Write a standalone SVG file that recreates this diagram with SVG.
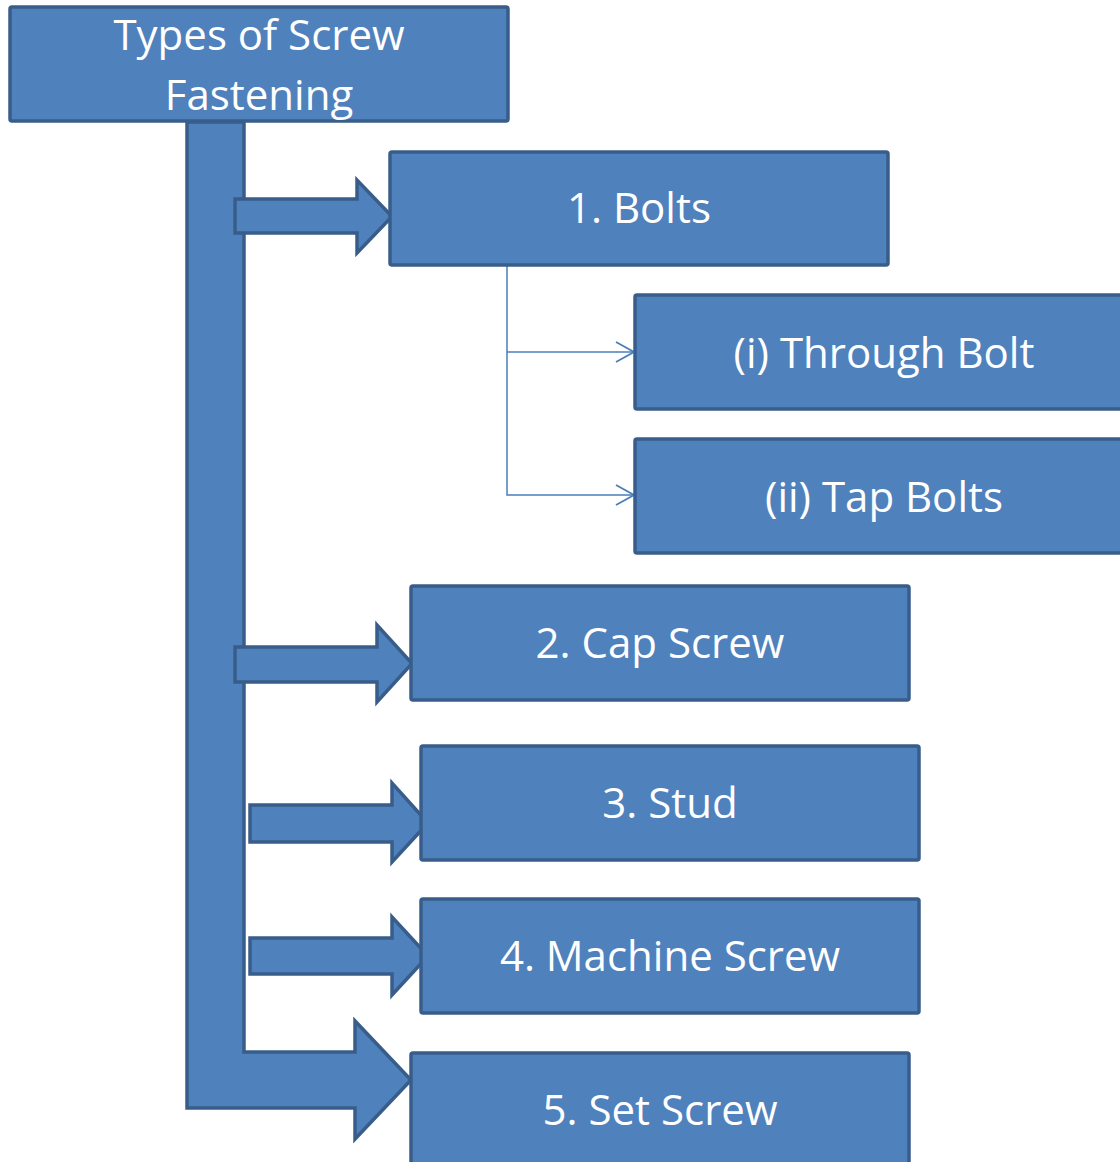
<svg xmlns="http://www.w3.org/2000/svg" width="1120" height="1162" viewBox="0 0 1120 1162">
  <defs>
    <style>
      .box { fill: #4f81bd; stroke: #385d8a; stroke-width: 3.5; }
      .arrow { fill: #4f81bd; stroke: #385d8a; stroke-width: 3.5; stroke-linejoin: miter; }
      .thin { fill: none; stroke: #4a7ebb; stroke-width: 1.5; }
      .lbl { font-family: "Open Sans", "Noto Sans", sans-serif; font-size: 42px; fill: #ffffff; text-anchor: middle; }
    </style>
    <marker id="chev" markerUnits="userSpaceOnUse" viewBox="0 0 20 22" refX="19" refY="11" markerWidth="20" markerHeight="22" orient="auto">
      <path d="M1 1 L19 11 L1 21" fill="none" stroke="#4a7ebb" stroke-width="1.8"/>
    </marker>
  </defs>
  <rect width="1120" height="1162" fill="#ffffff"/>

  <g id="connectors">
    <path class="arrow" d="M187 122 L244 122 L244 1052 L355 1052 L355 1021 L411 1080 L355 1139 L355 1108 L187 1108 Z"/>
    <path class="arrow" d="M235 199 L357 199 L357 180 L392 216.5 L357 253 L357 233 L235 233 Z"/>
    <path class="arrow" d="M235 647 L377 647 L377 625 L412 663.5 L377 702 L377 682 L235 682 Z"/>
    <path class="arrow" d="M250 805 L392 805 L392 783 L428 823 L392 862 L392 842 L250 842 Z"/>
    <path class="arrow" d="M250 938 L392 938 L392 917 L428 956 L392 995 L392 974 L250 974 Z"/>
    <path class="thin" d="M507 265 L507 495 L634 495" marker-end="url(#chev)"/>
    <path class="thin" d="M507 352 L634 352" marker-end="url(#chev)"/>
  </g>

  <g id="root">
    <rect class="box" x="10" y="7" width="498" height="114" rx="2"/>
    <text class="lbl" x="259" y="50">Types of Screw</text>
    <text class="lbl" x="259" y="110">Fastening</text>
  </g>
  <g id="bolts">
    <rect class="box" x="390" y="152" width="498" height="113" rx="2"/>
    <text class="lbl" x="639" y="223">1. Bolts</text>
  </g>
  <g id="through-bolt">
    <rect class="box" x="635" y="295" width="498" height="114" rx="2"/>
    <text class="lbl" x="884" y="368">(i) Through Bolt</text>
  </g>
  <g id="tap-bolts">
    <rect class="box" x="635" y="439" width="498" height="114" rx="2"/>
    <text class="lbl" x="884" y="512">(ii) Tap Bolts</text>
  </g>
  <g id="cap-screw">
    <rect class="box" x="411" y="586" width="498" height="114" rx="2"/>
    <text class="lbl" x="660" y="658">2. Cap Screw</text>
  </g>
  <g id="stud">
    <rect class="box" x="421" y="746" width="498" height="114" rx="2"/>
    <text class="lbl" x="670" y="818">3. Stud</text>
  </g>
  <g id="machine-screw">
    <rect class="box" x="421" y="899" width="498" height="114" rx="2"/>
    <text class="lbl" x="670" y="971">4. Machine Screw</text>
  </g>
  <g id="set-screw">
    <rect class="box" x="411" y="1053" width="498" height="114" rx="2"/>
    <text class="lbl" x="660" y="1125">5. Set Screw</text>
  </g>
</svg>
